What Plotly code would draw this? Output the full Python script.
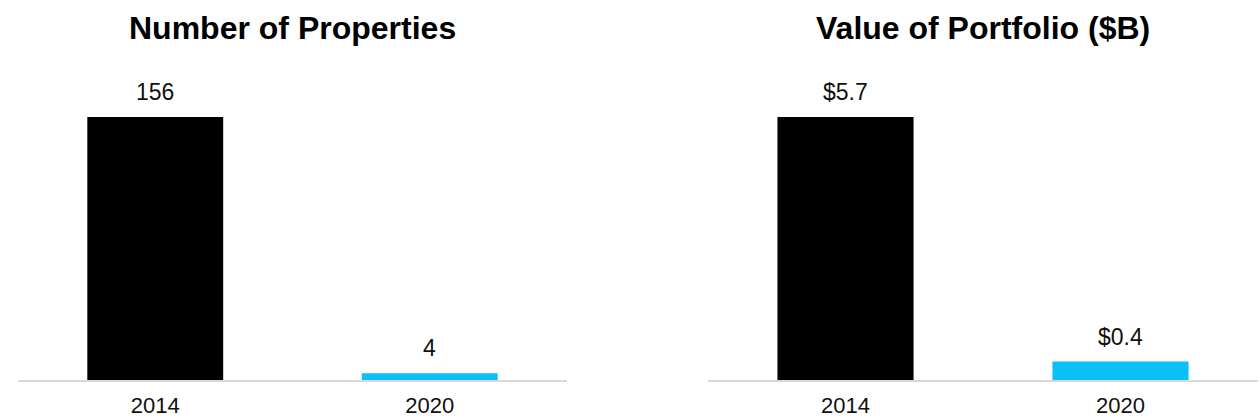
import plotly.graph_objects as go

years = ["2014", "2020"]
properties = [156, 4]
portfolio = [5.7, 0.4]
property_labels = ["156", "4"]
portfolio_labels = ["$5.7", "$0.4"]
titles = ["Number of Properties", "Value of Portfolio ($B)"]
bar_colors = ["#000000", "#0BBFF7"]

W, H = 1260, 420
FONT = "Liberation Sans, Arial, sans-serif"

fig = go.Figure()
fig.add_trace(go.Bar(x=years, y=properties, marker=dict(color=bar_colors, line=dict(width=0)),
                     xaxis="x", yaxis="y", showlegend=False, hoverinfo="skip"))
fig.add_trace(go.Bar(x=years, y=portfolio, marker=dict(color=bar_colors, line=dict(width=0)),
                     xaxis="x2", yaxis="y2", showlegend=False, hoverinfo="skip"))

ybot = (H - 380) / H
ytop = (H - 64.4) / H
xd1 = [18 / W, 567 / W]
xd2 = [708 / W, 1258 / W]

axis_common = dict(type="category", categoryorder="array", categoryarray=years,
                   range=[-0.5, len(years) - 0.5], autorange=False, automargin=False,
                   showgrid=False, zeroline=False, showline=True, linecolor="#D9D9D9",
                   linewidth=2, ticks="", ticklabelstandoff=5,
                   tickfont=dict(family=FONT, size=22, color="#111111"),
                   fixedrange=True)
yaxis_common = dict(visible=False, showgrid=False, zeroline=False, fixedrange=True,
                    autorange=False, automargin=False)

fig.update_layout(
    width=W, height=H, margin=dict(l=0, r=0, t=0, b=0),
    paper_bgcolor="white", plot_bgcolor="white", bargap=0.505,
    xaxis=dict(domain=xd1, anchor="y", **axis_common),
    xaxis2=dict(domain=xd2, anchor="y2", **axis_common),
    yaxis=dict(domain=[ybot, ytop], range=[0, max(properties) * 1.2], anchor="x", **yaxis_common),
    yaxis2=dict(domain=[ybot, ytop], range=[0, max(portfolio) * 1.2], anchor="x2", **yaxis_common),
)

annotations = []
for xa, ya, vals, labs in [("x", "y", properties, property_labels), ("x2", "y2", portfolio, portfolio_labels)]:
    for i, (yr, v, lab) in enumerate(zip(years, vals, labs)):
        annotations.append(dict(x=i, y=v, xref=xa, yref=ya, text=lab, showarrow=False,
                                xanchor="center", yanchor="middle", yshift=25,
                                font=dict(family=FONT, size=23, color="#111111")))
for dom, t in zip([xd1, xd2], titles):
    annotations.append(dict(x=(dom[0] + dom[1]) / 2, y=(H - 28) / H, xref="paper", yref="paper",
                            text="<b>" + t + "</b>", showarrow=False, xanchor="center", yanchor="middle",
                            font=dict(family=FONT, size=32, color="#000000")))
fig.update_layout(annotations=annotations)

fig.write_html("out.html")
